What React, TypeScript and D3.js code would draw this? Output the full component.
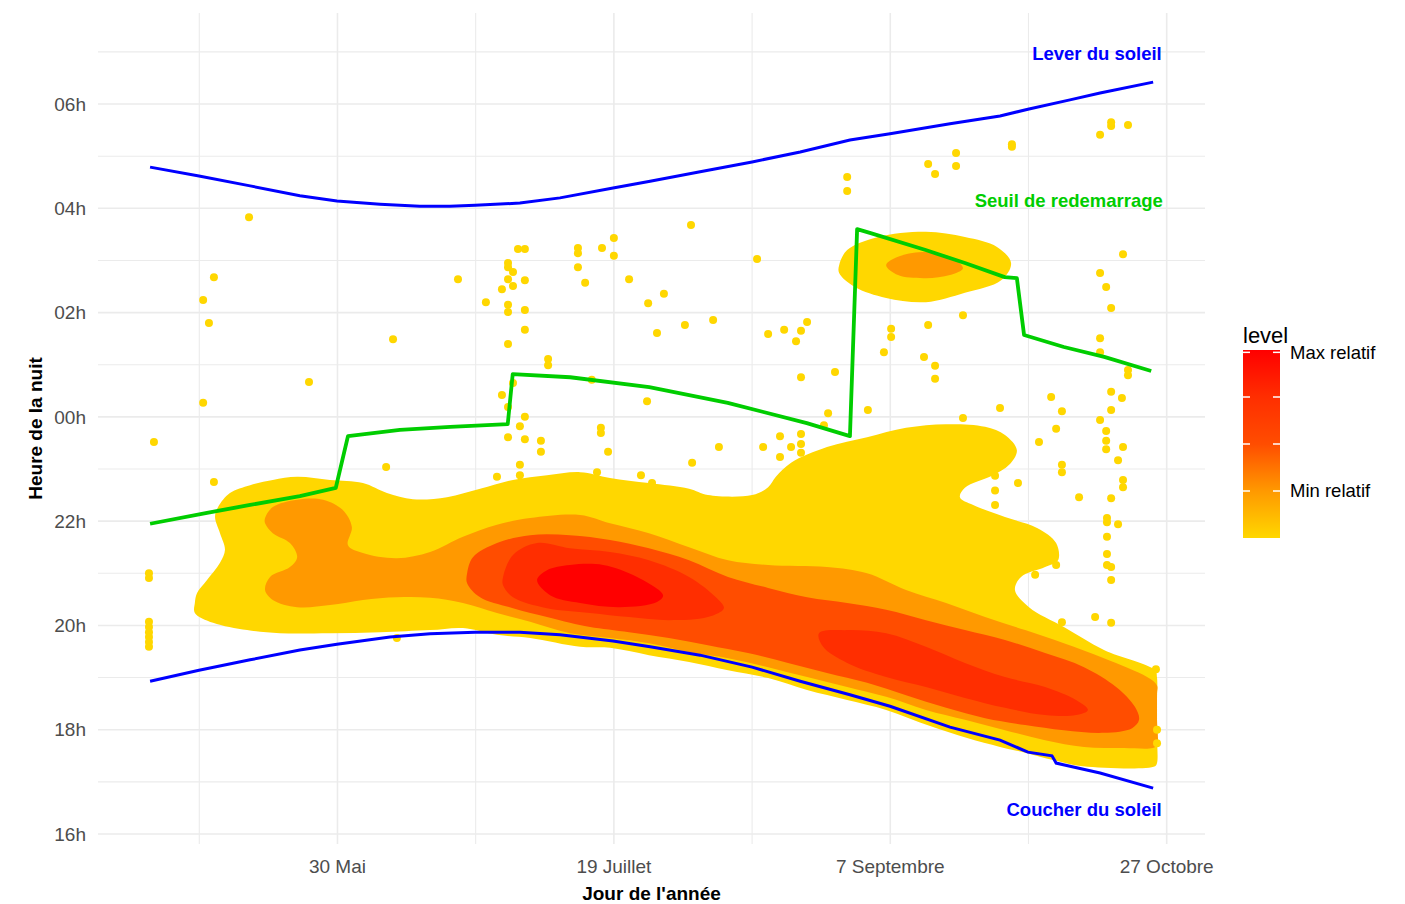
import React from "react";
import * as d3 from "d3";

type Pt = [number, number]; // [jour de l'année, heure (16 -> 31 = 07h le lendemain)]

const width = 1405;
const height = 904;
const panel = { left: 98, right: 1205, top: 13, bottom: 844 };

// axes
const dayTicks = [150, 200, 250, 300];
const dayTickLabels = ["30 Mai", "19 Juillet", "7 Septembre", "27 Octobre"];
const dayMinor = [125, 175, 225, 275];
const hourTicks = [16, 18, 20, 22, 24, 26, 28, 30];
const hourMinor = [17, 19, 21, 23, 25, 27, 29, 31];

// niveaux de densité (relatifs)
const levelValues = [1, 2, 3, 4, 5];
const levelColours = ["#FFD700", "#FF9900", "#FF4D00", "#FF2E00", "#FF0000"];
const legendTicks = [
  { level: 2, label: "Min relatif" },
  { level: 3, label: "" },
  { level: 4, label: "" },
  { level: 4.95, label: "Max relatif" },
];

// contours de densité
const densityMain1: Pt[] = [
  [124.2, 20.43], [124.6, 20.62], [126.4, 20.87], [128.75, 21.2], [129.65, 21.45], [128.75, 21.77],
  [127.85, 22.08], [128.4, 22.27], [130.55, 22.54], [134.2, 22.69], [138.3, 22.79], [142.7, 22.85],
  [148.65, 22.79], [154.6, 22.73], [158.95, 22.54], [163.65, 22.42], [169.8, 22.46], [175.8, 22.62],
  [181.75, 22.79], [187.9, 22.88], [193.9, 22.94], [199.3, 22.83], [206.35, 22.73], [213.6, 22.62],
  [217.0, 22.5], [225.0, 22.5], [227.9, 22.65], [229.3, 22.85], [232.05, 23.12], [238.55, 23.42],
  [245.8, 23.61], [252.85, 23.79], [260.1, 23.86], [267.15, 23.81], [270.75, 23.65], [272.9, 23.36],
  [271.5, 23.08], [268.6, 22.88], [263.5, 22.64], [262.6, 22.46], [265.0, 22.31], [270.75, 22.08],
  [276.55, 21.87], [280.0, 21.58], [280.35, 21.25], [278.0, 21.12], [273.65, 20.93], [272.55, 20.68],
  [275.1, 20.35], [281.4, 19.97], [288.65, 19.53], [297.9, 19.14], [298.25, 19.0], [298.25, 18.57],
  [298.25, 17.9], [298.25, 17.36], [297.9, 17.3], [284.85, 17.3], [279.45, 17.42], [274.75, 17.55],
  [269.85, 17.67], [263.9, 17.84], [257.2, 18.07], [249.25, 18.38], [242.2, 18.57], [234.95, 18.76],
  [227.9, 18.99], [220.65, 19.14], [213.6, 19.3], [206.35, 19.43], [199.3, 19.57], [193.9, 19.59],
  [184.85, 19.76], [178.85, 19.82], [172.7, 19.95], [166.75, 19.91], [157.7, 19.87], [148.65, 19.85],
  [139.6, 19.85], [133.65, 19.91], [127.5, 20.05], [124.2, 20.24],
];
const densityTop1: Pt[] = [
  [240.75, 26.91], [242.2, 27.2], [247.8, 27.45], [256.45, 27.55], [263.5, 27.45], [269.3, 27.26],
  [271.85, 26.95], [270.05, 26.62], [263.5, 26.38], [256.45, 26.2], [249.25, 26.28], [243.6, 26.49],
  [240.75, 26.76],
];
const densityMain2: Pt[] = [
  [136.9, 22.06], [138.3, 22.27], [142.7, 22.41], [147.4, 22.41], [151.0, 22.21], [152.6, 21.89],
  [151.9, 21.54], [154.6, 21.39], [160.75, 21.29], [166.75, 21.41], [172.7, 21.7], [178.85, 21.93],
  [184.85, 22.06], [193.9, 22.12], [199.3, 21.96], [206.35, 21.77], [213.6, 21.5], [220.65, 21.25],
  [227.9, 21.16], [238.55, 21.12], [245.8, 21.0], [252.85, 20.68], [260.1, 20.43], [267.15, 20.16],
  [274.4, 19.91], [281.4, 19.66], [288.65, 19.37], [296.45, 19.01], [298.25, 18.85], [298.25, 18.7],
  [298.25, 18.2], [298.25, 17.7], [297.5, 17.65], [292.3, 17.65], [285.05, 17.67], [278.0, 17.8],
  [270.75, 17.99], [263.5, 18.19], [256.45, 18.38], [249.25, 18.63], [242.2, 18.82], [234.95, 19.01],
  [227.9, 19.2], [220.65, 19.37], [213.6, 19.49], [206.35, 19.66], [199.3, 19.76], [192.05, 19.85],
  [184.85, 20.07], [178.85, 20.24], [172.7, 20.43], [166.75, 20.53], [160.75, 20.54], [154.6, 20.49],
  [148.65, 20.39], [142.7, 20.35], [138.3, 20.49], [136.9, 20.68], [137.8, 20.93], [141.4, 21.12],
  [142.7, 21.31], [141.4, 21.58], [138.3, 21.77], [136.9, 21.96],
];
const densityTop2: Pt[] = [
  [249.25, 26.91], [251.4, 27.07], [256.45, 27.16], [260.8, 27.07], [263.15, 26.85], [260.8, 26.72],
  [256.45, 26.66], [251.4, 26.72],
];
const densityMain3: Pt[] = [
  [173.45, 21.0], [174.5, 21.31], [178.85, 21.58], [184.85, 21.73], [192.05, 21.73], [199.3, 21.64],
  [206.35, 21.48], [213.6, 21.25], [220.65, 20.93], [227.9, 20.72], [234.95, 20.54], [242.2, 20.43],
  [249.25, 20.3], [256.45, 20.1], [263.5, 19.91], [270.75, 19.72], [278.0, 19.47], [285.05, 19.2],
  [290.85, 18.82], [294.25, 18.44], [295.0, 18.19], [293.75, 18.03], [288.65, 17.94], [281.4, 17.99],
  [274.4, 18.09], [267.15, 18.22], [260.1, 18.42], [252.85, 18.66], [245.8, 18.9], [238.55, 19.09],
  [231.5, 19.28], [224.25, 19.47], [217.0, 19.62], [209.95, 19.76], [202.75, 19.87], [195.7, 19.97],
  [192.05, 20.05], [187.9, 20.16], [181.75, 20.33], [175.8, 20.54], [173.45, 20.81],
];
const densityWest4: Pt[] = [
  [179.95, 20.93], [181.75, 21.35], [186.1, 21.58], [192.05, 21.48], [199.3, 21.41], [206.35, 21.25],
  [213.6, 20.93], [218.45, 20.54], [219.9, 20.33], [217.0, 20.16], [209.95, 20.1], [202.75, 20.16],
  [195.7, 20.24], [187.9, 20.33], [181.75, 20.54], [179.95, 20.77],
];
const densityEast4: Pt[] = [
  [237.1, 19.85], [242.2, 19.91], [249.25, 19.85], [256.45, 19.59], [263.5, 19.28], [270.75, 19.01],
  [278.0, 18.82], [283.6, 18.57], [285.75, 18.38], [283.6, 18.28], [278.0, 18.28], [270.75, 18.42],
  [263.5, 18.61], [256.45, 18.82], [249.25, 19.01], [242.2, 19.28], [237.85, 19.59],
];
const densityCore5: Pt[] = [
  [186.1, 20.87], [187.9, 21.06], [192.05, 21.16], [198.05, 21.16], [204.2, 20.93], [208.9, 20.58],
  [207.8, 20.45], [201.1, 20.35], [193.9, 20.43], [188.45, 20.58],
];

const contours = [
  { level: 1, ring: densityMain1 },
  { level: 1, ring: densityTop1 },
  { level: 2, ring: densityMain2 },
  { level: 2, ring: densityTop2 },
  { level: 3, ring: densityMain3 },
  { level: 4, ring: densityWest4 },
  { level: 4, ring: densityEast4 },
  { level: 5, ring: densityCore5 },
];

// départs observés
const nightPoints: Pt[] = [
  [134.0, 27.83], [127.65, 26.68], [125.7, 26.24], [126.75, 25.8], [160.05, 25.49], [144.85, 24.67],
  [125.7, 24.27], [116.8, 23.52], [158.8, 23.04], [171.8, 26.64], [176.85, 26.2], [180.85, 26.95],
  [180.85, 26.87], [181.75, 26.78], [179.75, 26.45], [180.85, 26.64], [181.75, 26.51], [183.9, 26.62],
  [182.65, 27.22], [183.9, 27.22], [180.85, 26.15], [180.85, 26.01], [183.9, 26.05], [183.9, 25.67],
  [180.85, 25.4], [188.1, 25.11], [188.1, 24.99], [181.75, 24.65], [179.75, 24.42], [180.85, 24.19],
  [183.9, 24.0], [183.0, 23.82], [180.85, 23.61], [183.9, 23.57], [186.8, 23.54], [186.8, 23.33],
  [183.0, 23.08], [178.85, 22.85], [183.0, 22.88], [193.5, 27.24], [193.5, 27.14], [193.5, 26.87],
  [127.65, 22.75], [115.9, 21.0], [115.9, 20.91], [115.9, 20.07], [115.9, 19.97], [115.9, 19.87],
  [115.9, 19.78], [115.9, 19.68], [115.9, 19.59], [160.75, 19.76], [272.0, 29.18], [272.0, 29.23],
  [261.9, 29.06], [261.9, 28.81], [256.85, 28.85], [258.1, 28.66], [242.2, 28.6], [242.2, 28.33],
  [213.95, 27.68], [197.85, 27.24], [200.0, 27.43], [200.0, 27.09], [194.8, 26.57], [202.75, 26.64],
  [225.9, 27.03], [209.05, 26.36], [206.2, 26.18], [207.8, 25.61], [212.85, 25.76], [217.95, 25.86],
  [227.9, 25.59], [230.8, 25.67], [233.85, 25.65], [234.95, 25.82], [232.95, 25.45], [233.85, 24.76],
  [240.0, 24.86], [292.1, 27.12], [287.95, 26.76], [289.05, 26.49], [289.95, 26.09], [287.95, 25.51],
  [287.95, 25.24], [293.0, 24.9], [293.0, 24.8], [263.15, 25.95], [256.85, 25.76], [250.15, 25.69],
  [250.15, 25.53], [248.85, 25.24], [256.1, 25.15], [258.1, 24.98], [258.1, 24.73], [206.0, 24.3],
  [197.65, 23.79], [197.65, 23.69], [198.95, 23.33], [214.15, 23.12], [219.0, 23.42], [227.0, 23.42],
  [230.05, 23.63], [230.05, 23.23], [232.05, 23.42], [233.85, 23.67], [233.85, 23.48], [233.85, 23.31],
  [238.75, 24.07], [238.0, 23.84], [245.95, 24.13], [269.85, 24.17], [279.1, 24.38], [281.05, 24.11],
  [280.0, 23.77], [276.9, 23.52], [281.05, 23.08], [281.05, 22.94], [289.95, 24.48], [291.9, 24.36],
  [289.95, 24.13], [287.95, 23.94], [289.05, 23.73], [289.05, 23.54], [289.05, 23.38], [292.1, 23.42],
  [291.2, 23.17], [196.95, 22.94], [204.9, 22.88], [206.9, 22.73], [268.95, 22.87], [273.1, 22.73],
  [268.95, 22.59], [268.95, 22.31], [284.15, 22.46], [292.1, 22.79], [292.1, 22.65], [289.95, 22.44],
  [289.2, 22.06], [289.2, 21.98], [291.2, 21.94], [289.2, 21.7], [289.2, 21.37], [289.2, 21.16],
  [289.95, 21.12], [289.95, 20.87], [280.0, 21.16], [276.2, 20.97], [281.05, 20.06], [287.05, 20.16],
  [289.95, 20.05], [298.05, 19.16], [287.95, 29.41], [289.95, 29.65], [289.95, 29.58], [293.0, 29.6],
  [263.15, 23.98], [298.25, 18.0], [298.25, 17.74], [196.0, 24.71],
];

// lever / coucher du soleil
const sunrise: Pt[] = [
  [116.1, 28.79], [124.95, 28.62], [134.2, 28.43], [143.2, 28.24], [149.9, 28.14], [157.7, 28.08],
  [164.9, 28.04], [170.35, 28.04], [174.9, 28.06], [183.0, 28.1], [190.25, 28.2], [199.85, 28.39],
  [206.55, 28.52], [215.6, 28.7], [225.0, 28.89], [233.7, 29.08], [242.7, 29.31], [249.95, 29.43],
  [260.8, 29.62], [269.85, 29.77], [274.9, 29.9], [282.5, 30.08], [287.95, 30.21], [297.55, 30.42],
];
const sunset: Pt[] = [
  [116.1, 18.93], [124.95, 19.14], [134.2, 19.34], [143.2, 19.53], [149.9, 19.64], [159.5, 19.78],
  [166.75, 19.84], [174.9, 19.87], [183.0, 19.87], [190.25, 19.82], [199.85, 19.7], [206.55, 19.59],
  [215.6, 19.43], [225.0, 19.2], [233.7, 18.93], [242.7, 18.67], [249.95, 18.45], [260.8, 18.05],
  [269.85, 17.8], [274.9, 17.57], [279.25, 17.5], [280.0, 17.36], [287.95, 17.17], [297.55, 16.88],
];
// seuil de redémarrage
const restart: Pt[] = [
  [116.1, 21.95], [126.4, 22.16], [134.2, 22.31], [143.2, 22.48], [149.7, 22.64], [151.9, 23.63],
  [161.3, 23.75], [170.4, 23.81], [180.8, 23.86], [181.7, 24.82], [192.1, 24.76], [206.4, 24.57],
  [220.6, 24.27], [234.9, 23.88], [242.7, 23.63], [244.0, 27.6], [246.3, 27.53], [256.4, 27.2],
  [263.5, 26.95], [270.7, 26.68], [272.9, 26.66], [274.2, 25.57], [281.4, 25.34], [288.7, 25.15],
  [297.2, 24.88],
];

const notes = [
  { label: "Lever du soleil", day: 299.1, hour: 30.97, colour: "#0000FF" },
  { label: "Seuil de redemarrage", day: 299.3, hour: 28.15, colour: "#00CD00" },
  { label: "Coucher du soleil", day: 299.1, hour: 16.46, colour: "#0000FF" },
];

const font = "'Liberation Sans', Arial, sans-serif";
const hourLabel = (h: number) => String(h % 24).padStart(2, "0") + "h";

const App = () => {
  const x = d3.scaleLinear().domain([106.68, 306.93]).range([panel.left, panel.right]);
  const y = d3.scaleLinear().domain([15.808, 31.746]).range([panel.bottom, panel.top]);
  const fill = d3.scaleLinear<string>().domain(levelValues).range(levelColours);
  const legendY = d3.scaleLinear().domain([1, 5]).range([538, 350]);

  const ring = d3
    .line<Pt>()
    .x((d) => x(d[0]))
    .y((d) => y(d[1]))
    .curve(d3.curveCatmullRomClosed.alpha(0.5));
  const path = d3
    .line<Pt>()
    .x((d) => x(d[0]))
    .y((d) => y(d[1]));

  return (
    <svg width={width} height={height} style={{ position: "absolute", left: 0, top: 0 }} fontFamily={font}>
      <rect width={width} height={height} fill="#fff" />

      {/* grille */}
      <g stroke="#EBEBEB">
        {hourMinor.map((h) => (
          <line key={"hm" + h} x1={panel.left} x2={panel.right} y1={y(h)} y2={y(h)} strokeWidth={1.1} />
        ))}
        {dayMinor.map((d) => (
          <line key={"dm" + d} x1={x(d)} x2={x(d)} y1={panel.top} y2={panel.bottom} strokeWidth={1.1} />
        ))}
        {hourTicks.map((h) => (
          <line key={"h" + h} x1={panel.left} x2={panel.right} y1={y(h)} y2={y(h)} strokeWidth={1.6} />
        ))}
        {dayTicks.map((d) => (
          <line key={"d" + d} x1={x(d)} x2={x(d)} y1={panel.top} y2={panel.bottom} strokeWidth={1.6} />
        ))}
      </g>

      {/* densité */}
      {contours.map((c, i) => (
        <path key={"c" + i} d={ring(c.ring) ?? ""} fill={fill(c.level)} />
      ))}

      {/* points */}
      <g fill="#FFD700">
        {nightPoints.map((p, i) => (
          <circle key={"p" + i} cx={x(p[0])} cy={y(p[1])} r={4} />
        ))}
      </g>

      <path d={path(sunrise) ?? ""} fill="none" stroke="#0000FF" strokeWidth={3} />
      <path d={path(sunset) ?? ""} fill="none" stroke="#0000FF" strokeWidth={3} />
      <path d={path(restart) ?? ""} fill="none" stroke="#00CD00" strokeWidth={3.8} strokeLinejoin="round" />

      {notes.map((n) => (
        <text
          key={n.label}
          x={x(n.day)}
          y={y(n.hour)}
          dy="0.35em"
          textAnchor="end"
          fontWeight="bold"
          fontSize={18.5}
          fill={n.colour}
        >
          {n.label}
        </text>
      ))}

      {/* axes */}
      <g fontSize={19} fill="#4D4D4D">
        {hourTicks.map((h) => (
          <text key={"yl" + h} x={86} y={y(h)} dy="0.35em" textAnchor="end">
            {hourLabel(h)}
          </text>
        ))}
        {dayTicks.map((d, i) => (
          <text key={"xl" + d} x={x(d)} y={873} textAnchor="middle">
            {dayTickLabels[i]}
          </text>
        ))}
      </g>
      <text x={(panel.left + panel.right) / 2} y={900} textAnchor="middle" fontWeight="bold" fontSize={19}>
        Jour de l'année
      </text>
      <text
        transform={`translate(42,${(panel.top + panel.bottom) / 2}) rotate(-90)`}
        textAnchor="middle"
        fontWeight="bold"
        fontSize={19}
      >
        Heure de la nuit
      </text>

      {/* légende */}
      <defs>
        <linearGradient id="levelGrad" x1="0" y1="1" x2="0" y2="0">
          {levelValues.map((v) => (
            <stop key={v} offset={(v - 1) / 4} stopColor={fill(v)} />
          ))}
        </linearGradient>
      </defs>
      <text x={1243} y={343} fontSize={22}>
        level
      </text>
      <rect x={1243} y={legendY(5)} width={37} height={legendY(1) - legendY(5)} fill="url(#levelGrad)" />
      <g stroke="#fff" strokeWidth={1.5}>
        {legendTicks.map((t) => (
          <g key={"lt" + t.level}>
            <line x1={1243} x2={1250} y1={legendY(t.level)} y2={legendY(t.level)} />
            <line x1={1273} x2={1280} y1={legendY(t.level)} y2={legendY(t.level)} />
          </g>
        ))}
      </g>
      <g fontSize={18.5}>
        {legendTicks.map((t) => (
          <text key={"ll" + t.level} x={1290} y={legendY(t.level)} dy="0.35em">
            {t.label}
          </text>
        ))}
      </g>
    </svg>
  );
};

export default App;
